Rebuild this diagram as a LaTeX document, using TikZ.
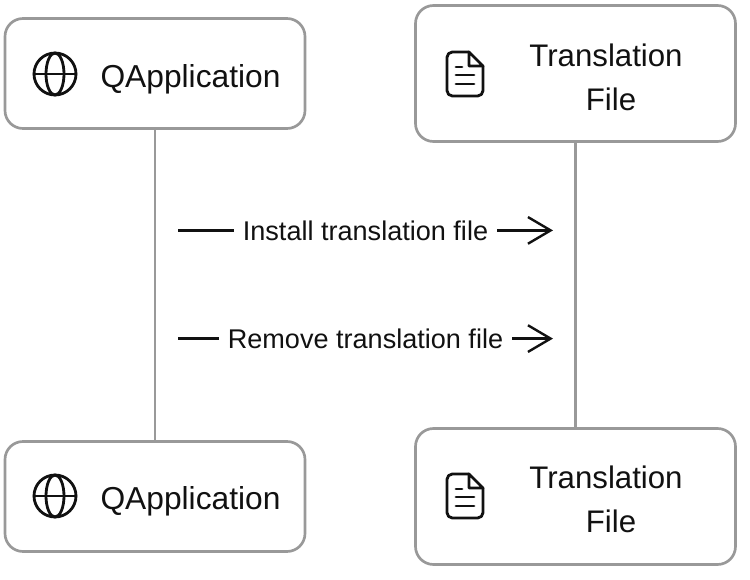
\documentclass[tikz,border=0pt]{standalone}
\usepackage{fontspec}
\setmainfont{Liberation Sans}
\usetikzlibrary{arrows.meta,calc,positioning}
\definecolor{ink}{HTML}{111111}
\definecolor{frame}{HTML}{999999}
\tikzset{
 every node/.append style={text=ink,align=center},
 box/.style={draw=frame,fill=white,rounded corners=13.5pt,line width=2pt,inner sep=0pt,minimum width=225pt},
 appbox/.style={box,minimum height=82.5pt},
 filebox/.style={box,minimum width=240pt,minimum height=102pt},
 title/.style={font=\fontsize{23.8}{33}\selectfont,inner sep=0pt},
 filetitle/.style={font=\fontsize{23.4}{33}\selectfont,inner sep=0pt},
 word/.style={font=\fontsize{20.3}{24}\selectfont,fill=white,inner xsep=6.5pt,inner ysep=2pt},
 link/.style={draw=frame,line width=2pt},
 message/.style={-{Straight Barb[length=17pt,width=20pt,line width=1.8pt]},draw=ink,line width=1.8pt},
 icon/.style={draw=ink,line width=2.1pt,line join=round,line cap=round},
}
\newcommand{\globeicon}[2]{
 \draw[icon] (#1,#2) circle (21);
 \draw[icon] (#1,#2) ellipse (9 and 21);
 \draw[icon] (#1-21,#2) -- (#1+21,#2);
}
\newcommand{\fileicon}[2]{
 \draw[icon,rounded corners=4pt] (#1+18,#2-8) -- (#1+18,#2+22) -- (#1-18,#2+22) -- (#1-18,#2-22) -- (#1+4,#2-22);
 \draw[icon] (#1+4,#2-22) -- (#1+4,#2-8) -- (#1+18,#2-8) -- cycle;
 \draw[icon] (#1-9,#2-7) -- (#1-3,#2-7);
 \draw[icon] (#1-9,#2+1) -- (#1+9,#2+1);
 \draw[icon] (#1-9,#2+10) -- (#1+9,#2+10);
}
\begin{document}
\begin{tikzpicture}[x=.75pt,y=-.75pt]

\useasboundingbox (0,0) rectangle (750,580);
\node[appbox] (app1) at (155,73.5) {};
\node[filebox] (file1) at (575.5,73.5) {};
\node[appbox] (app2) at (155,496.5) {};
\node[filebox] (file2) at (575.5,496.5) {};
\draw[link] (app1) -- (app2);
\draw[link] (file1) -- (file2);
\node[title] (apptext1) at (190.5,79) {QApplication};
\node[filetitle] (filetext1) at (606,77) {Translation\\\hspace*{7.5pt}File};
\node[title] (apptext2) at (190.5,501) {QApplication};
\node[filetitle] (filetext2) at (606,499) {Translation\\\hspace*{7.5pt}File};
\globeicon{55}{74}
\fileicon{465}{74}
\globeicon{55}{496}
\fileicon{465}{496}
\coordinate (in1) at (178,230.4);
\coordinate (in2) at (553,230.4);
\coordinate (out1) at (178,338.6);
\coordinate (out2) at (553,338.6);
\draw[message] (in1) -- node[word] (install) {Install translation file} (in2);
\draw[message] (out1) -- node[word] (remove) {Remove translation file} (out2);

\end{tikzpicture}
\end{document}
